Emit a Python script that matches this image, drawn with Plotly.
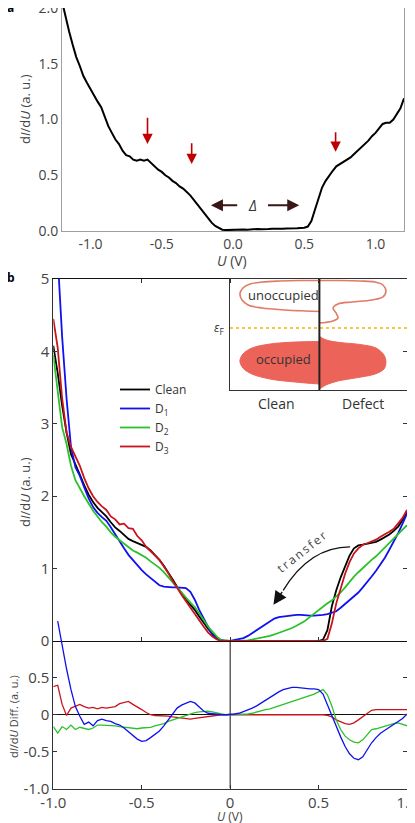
import plotly.graph_objects as go

# Colours
CLEAN_BLACK = '#000000'
D1_BLUE = '#1010f0'
D2_GREEN = '#2cc12c'
D3_RED = '#c8141c'
ARROW_RED = '#c00000'
FILL_RED = '#ec6459'
OUTLINE_RED = '#e07b66'
FERMI_GOLD = '#f2b600'
TEXT_GREY = '#444444'
FONT = 'Open Sans'

# the page puts the figure 8 px in from the top-left corner
OFF = 8
W, H = 415 - OFF, 823 - OFF

# ---------------- panel a: single dI/dU spectrum ----------------
U_A = [-1.200, -1.175, -1.150, -1.125, -1.100, -1.075, -1.050, -1.025,
       -1.000, -0.975, -0.950, -0.925, -0.900, -0.875, -0.850, -0.825,
       -0.800, -0.775, -0.750, -0.725, -0.700, -0.675, -0.650, -0.625,
       -0.600, -0.575, -0.550, -0.525, -0.500, -0.475, -0.450, -0.425,
       -0.400, -0.375, -0.350, -0.325, -0.300, -0.275, -0.250, -0.225,
       -0.200, -0.175, -0.150, -0.125, -0.100, -0.075, -0.050, -0.025,
       0.000, 0.025, 0.050, 0.075, 0.100, 0.125, 0.150, 0.175,
       0.200, 0.225, 0.250, 0.275, 0.300, 0.325, 0.350, 0.375,
       0.400, 0.425, 0.450, 0.475, 0.500, 0.525, 0.550, 0.575,
       0.600, 0.625, 0.650, 0.675, 0.700, 0.725, 0.750, 0.775,
       0.800, 0.825, 0.850, 0.875, 0.900, 0.925, 0.950, 0.975,
       1.000, 1.025, 1.050, 1.075, 1.100, 1.125, 1.150, 1.175, 1.200]
DIDU_A = [2.06, 1.92, 1.79, 1.67, 1.56, 1.48, 1.39, 1.33,
          1.27, 1.21, 1.16, 1.11, 1.02, 0.94, 0.88, 0.82,
          0.78, 0.72, 0.68, 0.67, 0.64, 0.63, 0.64, 0.63,
          0.64, 0.61, 0.58, 0.55, 0.53, 0.50, 0.48, 0.45,
          0.43, 0.40, 0.38, 0.35, 0.32, 0.28, 0.24, 0.19,
          0.15, 0.11, 0.075, 0.045, 0.025, 0.012, 0.008, 0.010,
          0.008, 0.012, 0.010, 0.014, 0.012, 0.016, 0.014, 0.018,
          0.016, 0.020, 0.018, 0.021, 0.019, 0.022, 0.020, 0.023,
          0.022, 0.025, 0.024, 0.027, 0.030, 0.040, 0.090, 0.19,
          0.30, 0.39, 0.45, 0.50, 0.54, 0.58, 0.60, 0.62,
          0.64, 0.66, 0.69, 0.72, 0.75, 0.78, 0.81, 0.85,
          0.88, 0.92, 0.96, 0.97, 0.97, 1.00, 1.05, 1.10, 1.19]

# features marked with red arrows (bias, arrow tail, arrow tip)
FEATURE_U = [-0.60, -0.29, 0.72]
FEATURE_TAIL = [1.03, 0.80, 0.90]
FEATURE_TIP = [0.78, 0.60, 0.71]

# ---------------- panel b: spectra on defects ----------------
U_B = [-1.000, -0.975, -0.950, -0.925, -0.900, -0.875, -0.850, -0.825, -0.800, -0.775,
       -0.750, -0.725, -0.700, -0.675, -0.650, -0.625, -0.600, -0.575, -0.550, -0.525,
       -0.500, -0.475, -0.450, -0.425, -0.400, -0.375, -0.350, -0.325, -0.300, -0.275,
       -0.250, -0.225, -0.200, -0.175, -0.150, -0.125, -0.100, -0.075, -0.050, -0.025,
       0.000, 0.025, 0.050, 0.075, 0.100, 0.125, 0.150, 0.175, 0.200, 0.225,
       0.250, 0.275, 0.300, 0.325, 0.350, 0.375, 0.400, 0.425, 0.450, 0.475,
       0.500, 0.525, 0.550, 0.575, 0.600, 0.625, 0.650, 0.675, 0.700, 0.725,
       0.750, 0.775, 0.800, 0.825, 0.850, 0.875, 0.900, 0.925, 0.950, 0.975,
       1.000]

CLEAN = [4.08, 3.70, 3.25, 2.88, 2.58, 2.45, 2.30, 2.15, 2.02, 1.92,
         1.84, 1.78, 1.72, 1.64, 1.57, 1.52, 1.46, 1.41, 1.38, 1.35,
         1.33, 1.30, 1.25, 1.19, 1.12, 1.04, 0.95, 0.85, 0.75, 0.66,
         0.58, 0.50, 0.43, 0.34, 0.25, 0.17, 0.10, 0.04, 0.01, 0.00,
         0.00, 0.00, 0.00, 0.00, 0.00, 0.00, 0.00, 0.00, 0.00, 0.00,
         0.00, 0.00, 0.00, 0.00, 0.00, 0.00, 0.00, 0.00, 0.00, 0.00,
         0.00, 0.02, 0.15, 0.48, 0.70, 0.88, 1.03, 1.18, 1.28, 1.32,
         1.33, 1.34, 1.35, 1.37, 1.40, 1.43, 1.47, 1.52, 1.58, 1.67,
         1.79]
D1 = [6.40, 5.20, 4.20, 3.35, 2.68, 2.40, 2.28, 2.12, 1.97, 1.85,
      1.77, 1.71, 1.66, 1.57, 1.47, 1.37, 1.28, 1.19, 1.12, 1.04,
      0.98, 0.92, 0.87, 0.82, 0.77, 0.75, 0.74, 0.74, 0.74, 0.74,
      0.73, 0.68, 0.57, 0.43, 0.31, 0.18, 0.08, 0.03, 0.01, 0.00,
      0.00, 0.01, 0.02, 0.04, 0.07, 0.11, 0.16, 0.20, 0.24, 0.28,
      0.31, 0.33, 0.34, 0.35, 0.36, 0.36, 0.36, 0.35, 0.35, 0.35,
      0.35, 0.36, 0.37, 0.39, 0.41, 0.46, 0.51, 0.56, 0.61, 0.67,
      0.74, 0.81, 0.89, 0.97, 1.06, 1.15, 1.26, 1.37, 1.49, 1.62,
      1.76]
D2 = [3.95, 3.45, 2.95, 2.72, 2.42, 2.22, 2.10, 2.00, 1.90, 1.80,
      1.72, 1.64, 1.58, 1.50, 1.44, 1.39, 1.35, 1.30, 1.25, 1.22,
      1.19, 1.15, 1.10, 1.06, 1.01, 0.95, 0.88, 0.81, 0.73, 0.66,
      0.59, 0.53, 0.47, 0.38, 0.28, 0.20, 0.13, 0.06, 0.01, 0.00,
      0.00, 0.00, 0.00, 0.01, 0.01, 0.02, 0.03, 0.04, 0.06, 0.07,
      0.09, 0.11, 0.13, 0.15, 0.18, 0.21, 0.24, 0.28, 0.33, 0.38,
      0.43, 0.48, 0.52, 0.56, 0.61, 0.67, 0.74, 0.82, 0.89, 0.95,
      1.01, 1.06, 1.12, 1.17, 1.23, 1.29, 1.35, 1.41, 1.47, 1.53,
      1.60]
D3 = [4.45, 4.05, 3.35, 2.88, 2.68, 2.55, 2.42, 2.25, 2.11, 2.00,
      1.92, 1.86, 1.81, 1.72, 1.68, 1.61, 1.62, 1.56, 1.55, 1.45,
      1.39, 1.30, 1.24, 1.18, 1.12, 1.03, 0.94, 0.83, 0.73, 0.64,
      0.55, 0.46, 0.38, 0.29, 0.20, 0.12, 0.06, 0.02, 0.00, 0.00,
      0.00, 0.00, 0.00, 0.00, 0.00, 0.00, 0.00, 0.00, 0.00, 0.00,
      0.00, 0.00, 0.00, 0.00, 0.00, 0.00, 0.00, 0.00, 0.00, 0.00,
      0.00, 0.00, 0.03, 0.24, 0.52, 0.74, 0.93, 1.09, 1.21, 1.28,
      1.33, 1.35, 1.37, 1.40, 1.44, 1.47, 1.51, 1.55, 1.62, 1.70,
      1.81]

D1_DIFF = [None, 1.27, 0.93, 0.62, 0.34, 0.11, -0.02, -0.13, -0.10, -0.15,
           -0.08, -0.06, -0.08, -0.09, -0.12, -0.14, -0.18, -0.23, -0.29, -0.33,
           -0.36, -0.35, -0.31, -0.27, -0.22, -0.15, -0.07, 0.01, 0.09, 0.13,
           0.16, 0.18, 0.16, 0.10, 0.05, 0.02, 0.01, 0.00, 0.00, 0.00,
           0.00, 0.01, 0.02, 0.04, 0.06, 0.09, 0.12, 0.16, 0.20, 0.24,
           0.28, 0.31, 0.34, 0.36, 0.37, 0.37, 0.36, 0.36, 0.35, 0.35,
           0.34, 0.28, 0.13, 0.00, -0.16, -0.30, -0.43, -0.53, -0.59, -0.61,
           -0.57, -0.48, -0.38, -0.31, -0.25, -0.21, -0.17, -0.13, -0.09, -0.05,
           0.01]
D2_DIFF = [-0.16, -0.25, -0.16, -0.20, -0.14, -0.20, -0.17, -0.19, -0.20, -0.18,
           -0.14, -0.14, -0.14, -0.15, -0.15, -0.16, -0.17, -0.18, -0.19, -0.19,
           -0.18, -0.18, -0.17, -0.15, -0.14, -0.12, -0.09, -0.07, -0.05, -0.02,
           0.00, 0.02, 0.03, 0.04, 0.05, 0.05, 0.04, 0.02, 0.01, 0.00,
           0.00, 0.00, 0.00, 0.01, 0.01, 0.02, 0.04, 0.05, 0.07, 0.08,
           0.10, 0.12, 0.14, 0.15, 0.17, 0.19, 0.21, 0.23, 0.26, 0.28,
           0.31, 0.34, 0.27, 0.12, -0.07, -0.20, -0.29, -0.34, -0.37, -0.38,
           -0.34, -0.27, -0.20, -0.19, -0.17, -0.15, -0.14, -0.12, -0.11, -0.13,
           -0.15]
D3_DIFF = [0.38, 0.40, 0.14, -0.01, 0.09, 0.12, 0.14, 0.11, 0.09, 0.10,
           0.08, 0.10, 0.09, 0.10, 0.11, 0.15, 0.17, 0.18, 0.14, 0.11,
           0.07, 0.03, 0.00, -0.01, -0.01, -0.02, -0.02, -0.03, -0.04, -0.05,
           -0.06, -0.06, -0.05, -0.04, -0.03, -0.02, -0.01, 0.00, 0.00, 0.00,
           0.00, 0.00, 0.00, 0.01, 0.00, 0.01, 0.00, 0.01, 0.01, 0.00,
           0.01, 0.00, 0.01, 0.01, 0.00, 0.01, 0.00, 0.01, 0.00, 0.01,
           0.00, 0.00, -0.01, -0.03, -0.07, -0.10, -0.12, -0.13, -0.11, -0.07,
           -0.03, 0.02, 0.06, 0.07, 0.07, 0.07, 0.07, 0.06, 0.06, 0.07,
           0.07]

# ---------------- inset schematic (inset axes run 0..1 both ways) ----------------
UNOCC_CLEAN_X = [0.505, 0.395, 0.282, 0.181, 0.113, 0.073, 0.056, 0.068, 0.102, 0.181, 0.311, 0.424, 0.505]
UNOCC_CLEAN_Y = [0.986, 0.986, 0.982, 0.973, 0.955, 0.919, 0.865, 0.811, 0.766, 0.739, 0.721, 0.712, 0.707]
UNOCC_DEFECT_X = [0.505, 0.621, 0.734, 0.819, 0.864, 0.881, 0.864, 0.802, 0.689, 0.610, 0.582, 0.599, 0.610, 0.582, 0.537, 0.505]
UNOCC_DEFECT_Y = [0.986, 0.986, 0.982, 0.973, 0.946, 0.892, 0.838, 0.811, 0.793, 0.775, 0.739, 0.694, 0.649, 0.622, 0.608, 0.604]
OCC_CLEAN_X = [0.505, 0.367, 0.226, 0.124, 0.073, 0.056, 0.073, 0.124, 0.226, 0.367, 0.505]
OCC_CLEAN_Y = [0.437, 0.432, 0.414, 0.378, 0.324, 0.261, 0.198, 0.144, 0.099, 0.072, 0.054]
OCC_DEFECT_X = [0.505, 0.520, 0.554, 0.621, 0.734, 0.825, 0.870, 0.881, 0.870, 0.819, 0.706, 0.610, 0.542, 0.514, 0.505]
OCC_DEFECT_Y = [0.486, 0.468, 0.446, 0.428, 0.410, 0.378, 0.315, 0.252, 0.189, 0.144, 0.108, 0.081, 0.045, 0.018, 0.009]
FERMI_LEVEL = 0.559
DIVIDER_X = 0.505


def px(x):
    # page pixel -> paper fraction
    return (x - OFF) / W


def py(y):
    return 1 - (y - OFF) / H


fig = go.Figure()

# panel a
fig.add_trace(go.Scatter(x=U_A, y=DIDU_A, mode='lines', line=dict(color=CLEAN_BLACK, width=2),
                         xaxis='x', yaxis='y', showlegend=False))

# panel b, top
for name, vals, col in [('Clean', CLEAN, CLEAN_BLACK), ('D<sub>1</sub>', D1, D1_BLUE),
                        ('D<sub>2</sub>', D2, D2_GREEN), ('D<sub>3</sub>', D3, D3_RED)]:
    fig.add_trace(go.Scatter(x=U_B, y=vals, mode='lines', name=name,
                             line=dict(color=col, width=1.8), xaxis='x2', yaxis='y2'))

# panel b, difference spectra
for vals, col in [(D3_DIFF, D3_RED), (D2_DIFF, D2_GREEN), (D1_DIFF, D1_BLUE)]:
    fig.add_trace(go.Scatter(x=U_B, y=vals, mode='lines', line=dict(color=col, width=1.3),
                             xaxis='x3', yaxis='y3', showlegend=False))

# inset
for xs, ys in [(OCC_CLEAN_X, OCC_CLEAN_Y), (OCC_DEFECT_X, OCC_DEFECT_Y)]:
    fig.add_trace(go.Scatter(x=xs, y=ys, mode='lines', fill='toself', fillcolor=FILL_RED,
                             line=dict(color=FILL_RED, width=1, shape='spline'),
                             xaxis='x4', yaxis='y4', showlegend=False, hoverinfo='skip'))
for xs, ys in [(UNOCC_CLEAN_X, UNOCC_CLEAN_Y), (UNOCC_DEFECT_X, UNOCC_DEFECT_Y)]:
    fig.add_trace(go.Scatter(x=xs, y=ys, mode='lines',
                             line=dict(color=OUTLINE_RED, width=1.6, shape='spline'),
                             xaxis='x4', yaxis='y4', showlegend=False, hoverinfo='skip'))
fig.add_trace(go.Scatter(x=[0, 1], y=[FERMI_LEVEL, FERMI_LEVEL], mode='lines',
                         line=dict(color=FERMI_GOLD, width=1.5, dash='dot'),
                         xaxis='x4', yaxis='y4', showlegend=False, hoverinfo='skip'))
fig.add_trace(go.Scatter(x=[DIVIDER_X, DIVIDER_X], y=[0, 1], mode='lines',
                         line=dict(color='#222222', width=2),
                         xaxis='x4', yaxis='y4', showlegend=False, hoverinfo='skip'))

tickfont = dict(family=FONT, size=14, color=TEXT_GREY)
tickfont_b = dict(family=FONT, size=15, color=TEXT_GREY)
box_b = '#333333'
common = dict(automargin=False, showgrid=False, ticklabeloverflow='allow')

fig.update_layout(
    width=W, height=H,
    margin=dict(l=0, r=0, t=0, b=0),
    paper_bgcolor='white', plot_bgcolor='rgba(0,0,0,0)',
    font=dict(family=FONT, color=TEXT_GREY),
    xaxis=dict(domain=[px(62), px(404)], anchor='y', range=[-1.2, 1.2],
               tickvals=[-1, -0.5, 0, 0.5, 1], ticktext=['-1.0', '-0.5', '0.0', '0.5', '1.0'],
               showline=True, mirror=True, linecolor='#a0a0a0', linewidth=1,
               zeroline=False, ticks='', tickfont=tickfont, **common),
    yaxis=dict(domain=[py(231), 1.0], anchor='x', range=[0, 2.0],
               tickvals=[0, 0.5, 1.0, 1.5, 2.0], ticktext=['0.0', '0.5', '1.0', '1.5', '2.0'],
               showline=True, mirror=True, linecolor='#a0a0a0', linewidth=1,
               zeroline=False, ticks='', tickfont=tickfont, **common),
    xaxis2=dict(domain=[px(53.3), px(407)], anchor='y2', range=[-1, 1],
                tickvals=[-0.5, 0, 0.5], showticklabels=False, ticks='inside', ticklen=4,
                tickcolor=box_b, showline=True, mirror='ticks', linecolor='#111111', linewidth=1.2,
                zeroline=False, **common),
    yaxis2=dict(domain=[py(641), py(279)], anchor='x2', range=[0, 5],
                tickvals=[0, 1, 2, 3, 4, 5], ticks='inside', ticklen=4, tickcolor=box_b,
                showline=True, mirror='ticks', linecolor=box_b, linewidth=1,
                zeroline=False, tickfont=tickfont_b, **common),
    xaxis3=dict(domain=[px(53.3), px(407)], anchor='y3', range=[-1, 1],
                tickvals=[-1, -0.5, 0, 0.5, 1], ticktext=['-1.0', '-0.5', '0', '0.5', '1.0'],
                ticks='inside', ticklen=4, tickcolor=box_b,
                showline=True, mirror=False, linecolor=box_b, linewidth=1,
                zeroline=False, tickfont=tickfont_b, **common),
    yaxis3=dict(domain=[py(788.5), py(610)], anchor='x3', range=[-1, 1.42],
                tickvals=[-1, -0.5, 0, 0.5], ticktext=['-1.0', '-0.5', '0', '0.5'],
                ticks='inside', ticklen=4, tickcolor=box_b,
                showline=True, mirror='ticks', linecolor=box_b, linewidth=1,
                zeroline=True, zerolinecolor='#111111', zerolinewidth=1,
                tickfont=tickfont_b, **common),
    xaxis4=dict(domain=[px(230), px(407)], anchor='y4', range=[0, 1],
                showticklabels=False, ticks='', showline=True, mirror=True,
                linecolor=box_b, linewidth=1.2, zeroline=False, **common),
    yaxis4=dict(domain=[py(390), py(279)], anchor='x4', range=[0, 1],
                showticklabels=False, ticks='', showline=True, mirror=True,
                linecolor=box_b, linewidth=1.2, zeroline=False, **common),
    legend=dict(x=px(115), y=py(375), xanchor='left', yanchor='top',
                bgcolor='rgba(0,0,0,0)', font=dict(family=FONT, size=12, color='#333333'),
                tracegroupgap=0),
)

# vertical zero-bias line in the difference panel
fig.add_shape(type='line', xref='x3', yref='y3', x0=0, x1=0, y0=-1, y1=1,
              line=dict(color='#111111', width=1), layer='below')

# curved "transfer" arrow
fig.add_shape(type='path', xref='x2', yref='y2',
              path='M 0.678,1.30 Q 0.45,1.30 0.30,0.70',
              line=dict(color='#111111', width=1.3))

ann = []
# red feature arrows in panel a
for u, tail, tip in zip(FEATURE_U, FEATURE_TAIL, FEATURE_TIP):
    ann.append(dict(x=u, y=tip, ax=u, ay=tail, xref='x', yref='y', axref='x', ayref='y',
                    text='', showarrow=True, arrowhead=2, arrowsize=1.3, arrowwidth=1.6,
                    arrowcolor=ARROW_RED))
# gap arrows
for tip, tail in [(-0.155, 0.04), (0.465, 0.235)]:
    ann.append(dict(x=tip, y=0.23, ax=tail, ay=0.23, xref='x', yref='y', axref='x', ayref='y',
                    text='', showarrow=True, arrowhead=2, arrowsize=1.2, arrowwidth=2,
                    arrowcolor='#3b1616'))
ann.append(dict(x=0.135, y=0.23, xref='x', yref='y', text='<i>Δ</i>', showarrow=False,
                font=dict(family=FONT, size=14, color='#333333')))
# arrow head of transfer arrow
ann.append(dict(x=0.245, y=0.50, ax=0.30, ay=0.70, xref='x2', yref='y2', axref='x2', ayref='y2',
                text='', showarrow=True, arrowhead=2, arrowsize=1.9, arrowwidth=1.4,
                arrowcolor='#111111'))
ann.append(dict(x=0.405, y=1.24, xref='x2', yref='y2', text='t\u2009r\u2009a\u2009n\u2009s\u2009f\u2009e\u2009r',
                showarrow=False, textangle=-38, font=dict(family=FONT, size=12, color='#444444')))


def label(txt, x, y, size, color='#333333', angle=0, xanchor='center'):
    return dict(x=px(x), y=py(y), xref='paper', yref='paper', text=txt, showarrow=False,
                xanchor=xanchor, yanchor='middle', textangle=angle,
                font=dict(family=FONT, size=size, color=color))


# inset labels
ann.append(label('unoccupied', 283, 295, 13))
ann.append(label('occupied', 283, 359, 13))
ann.append(label('Clean', 276, 403, 14))
ann.append(label('Defect', 363, 403, 14))
ann.append(label('<i>ε</i><sub>F</sub>', 226, 328, 12, xanchor='right'))

# axis titles
ann.append(label('d<i>I</i>/d<i>U</i> (a. u.)', 25, 109, 13, TEXT_GREY, -90))
ann.append(label('<i>U</i> (V)', 232, 260, 14, TEXT_GREY))
ann.append(label('d<i>I</i>/d<i>U</i> (a. u.)', 25, 492, 13, TEXT_GREY, -90))
ann.append(label('d<i>I</i>/d<i>U</i> Diff. (a. u.)', 13, 717, 11, TEXT_GREY, -90))
ann.append(label('<i>U</i> (V)', 230, 816, 12, TEXT_GREY))

# panel letters
ann.append(label('<b>a</b>', 5, 7, 12, '#000000', xanchor='left'))
ann.append(label('<b>b</b>', 5, 277, 12, '#000000', xanchor='left'))

fig.update_layout(annotations=ann)

fig.write_html("out.html")
